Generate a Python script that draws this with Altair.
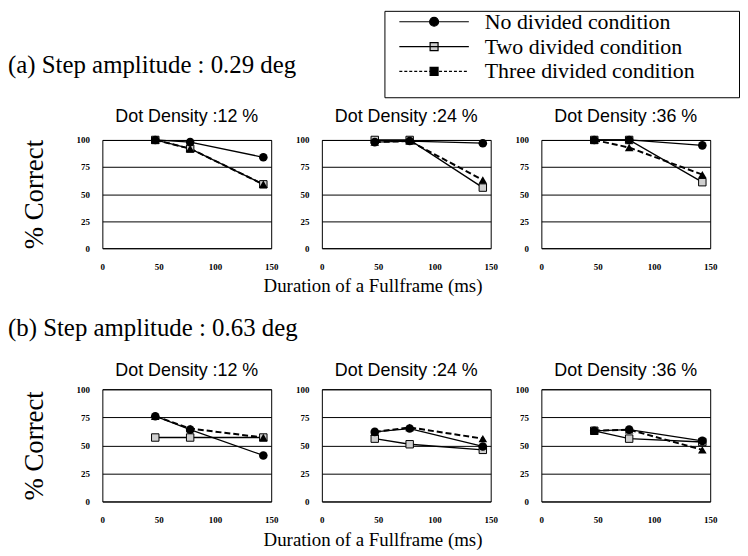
import altair as alt
import pandas as pd

# ---------------- data ----------------
durations = [47, 78, 143]
conditions = ["No divided condition", "Two divided condition", "Three divided condition"]
densities = [12, 24, 36]
step_titles = {"a": "(a) Step amplitude : 0.29 deg", "b": "(b) Step amplitude : 0.63 deg"}

a12_no = [100, 98, 84]
a12_two = [100, 92, 59]
a12_three = [100, 92, 59]
a24_no = [98, 99, 97]
a24_two = [100, 100, 56]
a24_three = [98, 99, 63]
a36_no = [100, 100, 95]
a36_two = [100, 100, 61]
a36_three = [100, 93, 68]
b12_no = [76, 64, 41]
b12_two = [57, 57, 57]
b12_three = [76, 65, 57]
b24_no = [62, 65, 49]
b24_two = [56, 51, 46]
b24_three = [62, 66, 56]
b36_no = [63, 64, 54]
b36_two = [63, 56, 53]
b36_three = [63, 64, 46]

series = {
    ("a", 12): (a12_no, a12_two, a12_three),
    ("a", 24): (a24_no, a24_two, a24_three),
    ("a", 36): (a36_no, a36_two, a36_three),
    ("b", 12): (b12_no, b12_two, b12_three),
    ("b", 24): (b24_no, b24_two, b24_three),
    ("b", 36): (b36_no, b36_two, b36_three),
}

records = []
for (step, dens), vals3 in series.items():
    for cond, vals in zip(conditions, vals3):
        for d, v in zip(durations, vals):
            records.append({"step": step, "density": dens, "condition": cond,
                            "duration": d, "pct": v})
df = pd.DataFrame(records)

SERIF = "Liberation Serif"
SANS = "Liberation Sans"

# ---------------- legend symbols (line + marker as one path) ----------------
U = 8.0  # px per unit with symbolSize 256
def f(v):
    return f"{v:.4f}"

half_line = 35 / U
r_c = 4.5 / U
h_s = 4.0 / U
p_no = (f"M{f(-half_line)},0H{f(half_line)}"
        f"M{f(-r_c)},0A{f(r_c)},{f(r_c)},0,1,1,{f(r_c)},0A{f(r_c)},{f(r_c)},0,1,1,{f(-r_c)},0Z")
p_two = (f"M{f(-half_line)},0H{f(half_line)}"
         f"M{f(-h_s)},{f(-h_s)}H{f(h_s)}V{f(h_s)}H{f(-h_s)}Z")
dash_on, dash_off = 3 / U, 2 / U
segs = []
x0 = -half_line
while x0 < half_line:
    x1 = min(x0 + dash_on, half_line)
    segs.append(f"M{f(x0)},0H{f(x1)}")
    x0 = x1 + dash_off
p_three = "".join(segs) + f"M{f(-h_s)},{f(-h_s)}H{f(h_s)}V{f(h_s)}H{f(-h_s)}Z"

legend = alt.Legend(
    title="\u200b", titleOrient="bottom", titleFontSize=13, titlePadding=2,
    orient="none", legendX=284, legendY=-130, direction="vertical",
    symbolSize=256, symbolStrokeColor="black", symbolStrokeWidth=1.2, symbolOpacity=1,
    symbolOffset=39,
    labelFont=SERIF, labelFontSize=22, labelColor="black", labelOffset=40,
    labelLimit=600, labelBaseline="middle", rowPadding=3, padding=0,
    labelExpr="datum.label + '\u00a0\u00a0\u00a0\u00a0\u00a0\u00a0\u00a0\u00a0\u200b'",
    strokeColor="black", fillColor="white", cornerRadius=0,
)
shape_scale = alt.Scale(domain=conditions, range=[p_no, p_two, p_three])
fill_scale = alt.Scale(domain=conditions, range=["black", "#cfcfcf", "black"])
stroke_scale = alt.Scale(domain=conditions, range=["black", "black", "black"])


def panel(step, dens, col, height):
    sub = df[(df.step == step) & (df.density == dens)]
    xkw = dict(values=[0, 50, 100, 150], labelFont=SERIF, labelFontWeight="bold",
               labelFontSize=9, labelPadding=14, labelColor="black", labelFlush=False,
               ticks=False, domain=False, grid=False)
    if col == 1:
        xaxis = alt.Axis(title="Duration of a Fullframe (ms)", titleFont=SERIF,
                         titleFontSize=19, titleFontWeight="normal", titleColor="black",
                         titleX=51, titleY=38, titleAlign="center",
                         titleBaseline="middle", **xkw)
    else:
        xaxis = alt.Axis(title=None, **xkw)
    ykw = dict(values=[0, 25, 50, 75, 100], labelFont=SERIF, labelFontWeight="bold",
               labelFontSize=9, labelPadding=13, labelColor="black",
               ticks=False, domain=False, grid=True, gridColor="black",
               gridWidth=1, gridOpacity=1)
    if col == 0:
        yaxis = alt.Axis(title="% Correct", titleFont=SERIF, titleFontSize=27,
                         titleFontWeight="normal", titleColor="black", titleAngle=270,
                         titleX=-68, titleY=height / 2, titleAlign="center",
                         titleBaseline="middle", **ykw)
    else:
        yaxis = alt.Axis(title=None, **ykw)

    x = alt.X("duration:Q", scale=alt.Scale(domain=[0, 150], nice=False), axis=xaxis)
    y = alt.Y("pct:Q", scale=alt.Scale(domain=[0, 100], nice=False), axis=yaxis)

    base = alt.Chart(sub)
    def only(c):
        return base.transform_filter(alt.datum.condition == c)

    line_two = only(conditions[1]).mark_line(color="black", strokeWidth=1.3)
    line_no = only(conditions[0]).mark_line(color="black", strokeWidth=1.3)
    line_three = only(conditions[2]).mark_line(color="black", strokeWidth=2,
                                               strokeDash=[6, 3])
    pt_two = only(conditions[1]).mark_point(shape="square", filled=True, fill="#cfcfcf",
                                            stroke="black", strokeWidth=1, size=56, opacity=1)
    pt_no = only(conditions[0]).mark_point(shape="circle", filled=True, color="black",
                                           size=75, opacity=1)
    pt_three = only(conditions[2]).mark_point(shape="triangle-up", filled=True,
                                              color="black", size=75, opacity=1)
    layers = [line_two, line_no, line_three, pt_two, pt_no, pt_three]
    if step == "a" and col == 0:
        leg_layer = base.transform_filter("false").mark_point(
            filled=False, strokeWidth=1.2, opacity=1
        ).encode(
            shape=alt.Shape("condition:N", scale=shape_scale, legend=legend),
            fill=alt.Fill("condition:N", scale=fill_scale, legend=legend),
            stroke=alt.Stroke("condition:N", scale=stroke_scale, legend=legend),
        )
        layers.append(leg_layer)
    return alt.layer(*layers).encode(x=x, y=y).properties(
        width=170, height=height,
        title=alt.Title(f"Dot Density :{dens} %", font=SANS, fontSize=18,
                        fontWeight="normal", color="black",
                        offset=8 if step == "a" else 5),
    )


def row(step, height, toff):
    return alt.hconcat(
        *[panel(step, d, i, height) for i, d in enumerate(densities)],
        spacing=51, bounds="flush",
        title=alt.Title(step_titles[step], font=SERIF, fontSize=25, fontWeight="normal",
                        color="black", anchor="start", frame="group", dx=-95, offset=toff),
    )


chart = alt.vconcat(row("a", 109, 30), row("b", 113, 21), spacing=19).properties(
    padding={"left": 0, "top": 0, "right": 0, "bottom": 0},
    background="white",
).configure_view(stroke="black", strokeWidth=1)

chart.save("out.html", embed_options={"renderer": "svg", "actions": False})
